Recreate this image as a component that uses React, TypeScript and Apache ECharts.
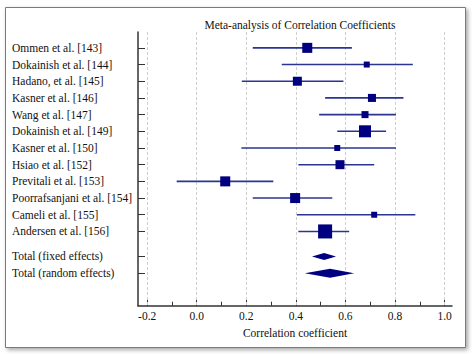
import React, { useEffect, useRef } from "react";
import * as echarts from "echarts";

const studies = [
  "Ommen et al. [143]",
  "Dokainish et al. [144]",
  "Hadano, et al. [145]",
  "Kasner et al. [146]",
  "Wang et al. [147]",
  "Dokainish et al. [149]",
  "Kasner et al. [150]",
  "Hsiao et al. [152]",
  "Previtali et al. [153]",
  "Poorrafsanjani et al. [154]",
  "Cameli et al. [155]",
  "Andersen et al. [156]",
];
const estimate = [0.446, 0.686, 0.406, 0.707, 0.679, 0.679, 0.567, 0.578, 0.115, 0.397, 0.716, 0.518];
const lower = [0.226, 0.343, 0.182, 0.518, 0.494, 0.567, 0.18, 0.41, -0.081, 0.226, 0.404, 0.41];
const upper = [0.626, 0.872, 0.592, 0.834, 0.804, 0.764, 0.804, 0.716, 0.309, 0.547, 0.882, 0.615];
const weights = [9.8, 3.5, 7.9, 6.3, 4.8, 14.1, 3.5, 7.9, 9.8, 9.8, 3.5, 19.2];

const totalLabels = ["Total (fixed effects)", "Total (random effects)"];
const totalEstimate = [0.514, 0.538];
const totalLower = [0.465, 0.436];
const totalUpper = [0.562, 0.635];

const studyRows = studies.map((_, i) => i);
const totalRows = [12.5, 13.5];

const xTickValues = [-0.2, 0, 0.2, 0.4, 0.6, 0.8, 1.0];
const xMinorTickValues = [-0.1, 0.1, 0.3, 0.5, 0.7, 0.9];

const FONT = "'Liberation Serif', 'Times New Roman', serif";

export default function App() {
  const ref = useRef<HTMLDivElement>(null);
  useEffect(() => {
    document.body.style.margin = "0";
    if (!ref.current) return;
    const chart = echarts.init(ref.current, undefined, { renderer: "svg" });

    const rowLabels: Record<string, string> = {};
    studyRows.forEach((r, i) => (rowLabels[String(r)] = studies[i]));
    totalRows.forEach((r, i) => (rowLabels[String(r)] = totalLabels[i]));

    const data: number[][] = [];
    studies.forEach((_, i) => data.push([studyRows[i], lower[i], upper[i], estimate[i], weights[i], 0]));
    totalLabels.forEach((_, i) => data.push([totalRows[i], totalLower[i], totalUpper[i], totalEstimate[i], 0, i + 1]));

    const xMin = -0.237;
    const xMax = 1.03;

    chart.setOption({
      animation: false,
      graphic: {
        elements: [
          {
            type: "rect",
            z: -10,
            silent: true,
            shape: { x: 5.5, y: 7.5, width: 460, height: 340 },
            style: {
              fill: "#fff",
              stroke: "#7a7a7a",
              lineWidth: 1,
              shadowBlur: 4,
              shadowOffsetX: 2,
              shadowOffsetY: 2,
              shadowColor: "rgba(0,0,0,0.35)",
            },
          },
        ],
      },
      title: {
        text: "Meta-analysis of Correlation Coefficients",
        left: 295,
        top: 14,
        textAlign: "center",
        textStyle: { fontFamily: FONT, fontSize: 11.5, fontWeight: "normal", color: "#111" },
      },
      grid: { left: 138, right: 20, top: 32, bottom: 48.3, containLabel: false },
      xAxis: [
        {
          type: "value",
          position: "bottom",
          min: xMin,
          max: xMax,
          name: "Correlation coefficient",
          nameLocation: "middle",
          nameGap: 18,
          nameTextStyle: { fontFamily: FONT, fontSize: 11.5, color: "#111" },
          axisLine: { show: true, onZero: false, lineStyle: { color: "#333", width: 1.5 } },
          axisTick: { show: true, inside: true, length: 8, customValues: xTickValues, lineStyle: { color: "#333" } },
          axisLabel: {
            customValues: xTickValues,
            margin: 4,
            fontFamily: FONT,
            fontSize: 11.5,
            color: "#111",
            formatter: (v: number) => v.toFixed(1),
          },
          splitLine: { show: false },
        },
        {
          type: "value",
          position: "bottom",
          min: xMin,
          max: xMax,
          axisLine: { show: false, onZero: false },
          axisTick: { show: true, inside: true, length: 4, customValues: xMinorTickValues, lineStyle: { color: "#333" } },
          axisLabel: { show: false },
          splitLine: { show: false },
        },
      ],
      yAxis: {
        type: "value",
        inverse: true,
        min: -0.95,
        max: 15.45,
        axisLine: { show: true, onZero: false, lineStyle: { color: "#333", width: 1.5 } },
        axisTick: {
          show: true,
          inside: true,
          length: 7,
          customValues: [...studyRows, ...totalRows],
          lineStyle: { color: "#333" },
        },
        axisLabel: {
          customValues: [...studyRows, ...totalRows],
          align: "left",
          margin: 126,
          fontFamily: FONT,
          fontSize: 11.5,
          color: "#111",
          formatter: (v: number) => rowLabels[String(v)] ?? "",
        },
        splitLine: { show: false },
      },
      series: [
        {
          type: "line",
          data: [],
          silent: true,
          z: 1,
          markLine: {
            silent: true,
            symbol: ["none", "none"],
            label: { show: false },
            lineStyle: { color: "#cfcfcf", width: 1, type: [3, 2] },
            data: xTickValues.map((v) => ({ xAxis: v })),
          },
        },
        {
          type: "custom",
          xAxisIndex: 0,
          z: 10,
          data,
          encode: { x: [1, 2, 3], y: 0 },
          renderItem: (params: any, api: any) => {
            const y = api.value(0);
            const lo = api.value(1);
            const hi = api.value(2);
            const est = api.value(3);
            const w = api.value(4);
            const kind = api.value(5);
            const p1 = api.coord([lo, y]);
            const p2 = api.coord([hi, y]);
            const c = api.coord([est, y]);
            if (kind === 0) {
              const s = 3.2 * Math.sqrt(w);
              return {
                type: "group",
                children: [
                  {
                    type: "line",
                    shape: { x1: p1[0], y1: p1[1], x2: p2[0], y2: p2[1] },
                    style: { stroke: "#2b3590", lineWidth: 1.6 },
                  },
                  {
                    type: "rect",
                    shape: { x: c[0] - s / 2, y: c[1] - s / 2, width: s, height: s },
                    style: { fill: "#000080" },
                  },
                ],
              };
            }
            const h = kind === 1 ? 7 : 9;
            return {
              type: "polygon",
              shape: {
                points: [
                  [p1[0], c[1]],
                  [c[0], c[1] - h / 2],
                  [p2[0], c[1]],
                  [c[0], c[1] + h / 2],
                ],
              },
              style: { fill: "#000080" },
            };
          },
        },
      ],
    });
    return () => chart.dispose();
  }, []);
  return <div ref={ref} style={{ width: 472, height: 354 }} />;
}
